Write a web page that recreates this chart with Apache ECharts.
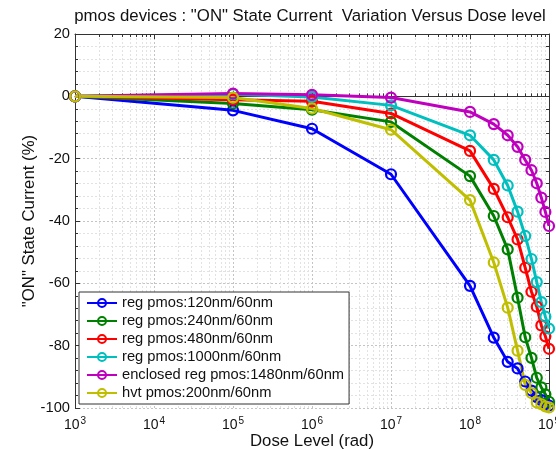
<!DOCTYPE html>
<html>
<head>
<meta charset="utf-8">
<script src="https://cdn.jsdelivr.net/npm/echarts@6/dist/echarts.min.js"></script>
<style>
html,body{margin:0;padding:0;background:#fff;}
#chart{width:556px;height:450px;}
</style>
</head>
<body>
<div id="chart"></div>
<script>
// ---- data ----
var doses = [1e3, 1e5, 1e6, 1e7, 1e8, 2e8, 3e8, 4e8, 5e8, 6e8, 7e8, 8e8, 9e8, 1e9];
var seriesNames = [
  'reg pmos:120nm/60nm',
  'reg pmos:240nm/60nm',
  'reg pmos:480nm/60nm',
  'reg pmos:1000nm/60nm',
  'enclosed reg pmos:1480nm/60nm',
  'hvt pmos:200nm/60nm'
];
var blue    = [0, -4.5, -10.4, -25.0, -60.8, -77.4, -85.2, -87.3, -91.5, -94.4, -96.5, -97.5, -98.5, -99.2];
var green   = [0, -2.3, -4.3, -8.2, -25.6, -38.4, -49.1, -64.6, -77.3, -83.9, -90.3, -93.4, -95.6, -98.0];
var red     = [0, -1.1, -1.6, -5.5, -17.5, -29.7, -38.8, -45.9, -55.0, -62.7, -67.5, -73.5, -77.0, -81.0];
var cyan    = [0, 0.7, -0.2, -2.9, -12.5, -20.4, -28.6, -37.0, -44.8, -52.2, -59.6, -66.0, -70.7, -74.5];
var magenta = [0, 0.9, 0.5, -0.4, -5.0, -8.9, -12.5, -16.2, -20.4, -23.7, -27.9, -32.5, -37.1, -41.6];
var yellow  = [0, -0.4, -3.9, -10.7, -33.3, -53.3, -67.8, -81.6, -92.6, -95.2, -98.2, -98.8, -99.5, -99.8];
var xMajorTicks = [1e3, 1e4, 1e5, 1e6, 1e7, 1e8, 1e9];
var yTicks = [-100, -80, -60, -40, -20, 0, 20];

// ---- styles ----
var colors = ['#0000ff', '#008000', '#ff0000', '#00bfbf', '#bf00bf', '#bfbf00'];
var allValues = [blue, green, red, cyan, magenta, yellow];
var FONT = '"Liberation Sans", Arial, sans-serif';
var AXIS_COLOR = '#333';

var xMinor = [];
for (var d = 0; d < xMajorTicks.length - 1; d++) {
  for (var k = 2; k <= 9; k++) xMinor.push(k * xMajorTicks[d]);
}

function pairs(vals) {
  return doses.map(function (x, i) { return [x, vals[i]]; });
}

var series = allValues.map(function (vals, i) {
  return {
    name: seriesNames[i],
    type: 'line',
    xAxisIndex: 0,
    yAxisIndex: 0,
    data: pairs(vals),
    symbol: 'circle',
    symbolSize: 10,
    showSymbol: true,
    lineStyle: { color: colors[i], width: 3 },
    itemStyle: { color: 'rgba(255,255,255,0)', borderColor: colors[i], borderWidth: 2.2 },
    emphasis: { disabled: true },
    animation: false
  };
});

function logAxis(extra) {
  var base = {
    type: 'log', logBase: 10, min: xMajorTicks[0], max: xMajorTicks[xMajorTicks.length - 1],
    axisLine: { show: false, lineStyle: { color: AXIS_COLOR } },
    axisTick: { show: false },
    axisLabel: { show: false },
    splitLine: { show: false }
  };
  for (var key in extra) base[key] = extra[key];
  return base;
}

var chart = echarts.init(document.getElementById('chart'), null, { renderer: 'canvas' });
chart.setOption({
  animation: false,
  backgroundColor: '#fff',
  title: {
    text: 'pmos devices : "ON" State Current  Variation Versus Dose level',
    left: 305, textAlign: 'center', top: 3,
    textStyle: { fontFamily: FONT, fontSize: 16.8, fontWeight: 'normal', color: '#111' }
  },
  grid: { left: 75, right: 7, top: 34, bottom: 42, containLabel: false, outerBoundsMode: 'none' },
  legend: {
    orient: 'vertical',
    left: 79, top: 292,
    padding: [2, 5, 2, 7],
    itemGap: 0,
    itemWidth: 30,
    itemHeight: 10,
    backgroundColor: '#fff',
    borderColor: '#333',
    borderWidth: 1,
    borderRadius: 0,
    textStyle: { fontFamily: FONT, fontSize: 14.7, color: '#111', lineHeight: 18 },
    data: seriesNames
  },
  xAxis: [
    logAxis({
      position: 'bottom',
      axisLine: { show: true, lineStyle: { color: AXIS_COLOR, width: 1 } },
      axisTick: { show: true, inside: true, length: 5, lineStyle: { color: AXIS_COLOR } },
      splitLine: { show: true, lineStyle: { color: '#c4c4c4', type: [2, 2], width: 1 } },
      axisLabel: {
        show: true, margin: 8, showMinLabel: true, showMaxLabel: true, hideOverlap: false,
        formatter: function (v) {
          return '{b|10}{e|' + Math.round(Math.log10(v)) + '}';
        },
        rich: {
          b: { fontFamily: FONT, fontSize: 14, color: '#111', lineHeight: 16, verticalAlign: 'bottom' },
          e: { fontFamily: FONT, fontSize: 10, color: '#111', lineHeight: 10, verticalAlign: 'top', padding: [0, 0, 20, 1] }
        }
      },
      name: 'Dose Level (rad)',
      nameLocation: 'middle',
      nameGap: 25,
      nameMoveOverlap: false,
      nameTextStyle: { fontFamily: FONT, fontSize: 16.8, color: '#111' }
    }),
    logAxis({
      position: 'bottom',
      axisTick: { show: true, inside: true, length: 3, customValues: xMinor, lineStyle: { color: AXIS_COLOR } },
      splitLine: { show: true, lineStyle: { color: '#e2e2e2', type: [2, 2], width: 1 } }
    }),
    logAxis({
      position: 'top',
      axisLine: { show: true, lineStyle: { color: AXIS_COLOR, width: 1 } },
      axisTick: { show: true, inside: true, length: 5, lineStyle: { color: AXIS_COLOR } }
    }),
    logAxis({
      position: 'top',
      axisTick: { show: true, inside: true, length: 3, customValues: xMinor, lineStyle: { color: AXIS_COLOR } }
    })
  ],
  yAxis: [
    {
      type: 'value', position: 'left',
      min: yTicks[0], max: yTicks[yTicks.length - 1], interval: 20,
      axisLine: { show: true, lineStyle: { color: AXIS_COLOR, width: 1 } },
      axisTick: { show: true, inside: true, length: 5, lineStyle: { color: AXIS_COLOR } },
      minorTick: { show: true, splitNumber: 5, length: 3, lineStyle: { color: AXIS_COLOR } },
      splitLine: { show: true, lineStyle: { color: '#c4c4c4', type: [2, 2], width: 1 } },
      minorSplitLine: { show: true, lineStyle: { color: '#e2e2e2', type: [2, 2], width: 1 } },
      axisLabel: { show: true, margin: 5, fontFamily: FONT, fontSize: 14.7, color: '#111' },
      name: '"ON" State Current (%)',
      nameLocation: 'middle',
      nameGap: 37,
      nameMoveOverlap: false,
      nameTextStyle: { fontFamily: FONT, fontSize: 16.8, color: '#111' }
    },
    {
      type: 'value', position: 'right',
      min: yTicks[0], max: yTicks[yTicks.length - 1], interval: 20,
      axisLine: { show: true, lineStyle: { color: AXIS_COLOR, width: 1 } },
      axisTick: { show: true, inside: true, length: 5, lineStyle: { color: AXIS_COLOR } },
      minorTick: { show: true, splitNumber: 5, length: 3, lineStyle: { color: AXIS_COLOR } },
      splitLine: { show: false },
      axisLabel: { show: false }
    }
  ],
  series: series
});
</script>
</body>
</html>
